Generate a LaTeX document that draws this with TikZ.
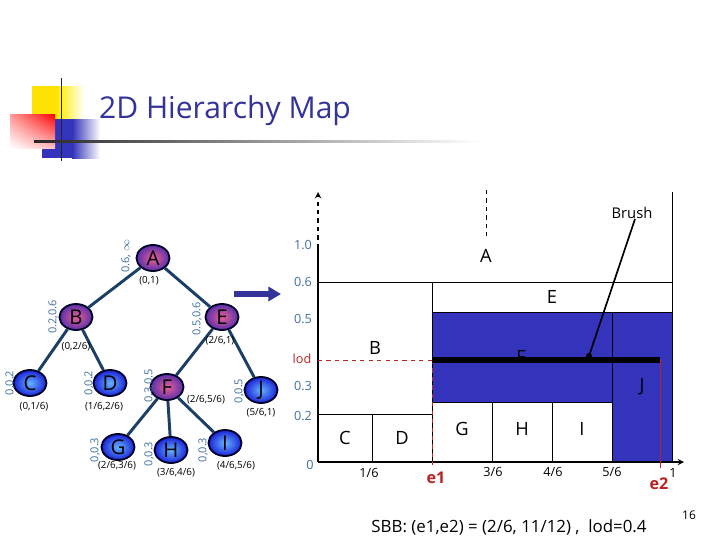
\documentclass[tikz,border=0pt]{standalone}
\usepackage{fontspec}
\setmainfont{Open Sans}
\usetikzlibrary{shapes.geometric,shadings,arrows.meta}
\definecolor{navy}{HTML}{333399}
\definecolor{edgeblue}{HTML}{1C3F66}
\definecolor{ticktext}{HTML}{3F6F9F}
\definecolor{fillblue}{HTML}{3333BB}
\definecolor{redlabel}{HTML}{BB2222}
\definecolor{pinkmid}{HTML}{E8609A}
\definecolor{purpleout}{HTML}{5A2FA8}
\definecolor{bluemid}{HTML}{66B4FF}
\definecolor{blueout}{HTML}{1A22D8}
\tikzset{
  treenode/.style={shape=ellipse,draw=black!85!blue,line width=1.3pt,minimum width=23.5pt,minimum height=18.5pt,inner sep=0pt,font=\fontsize{14.5}{15}\selectfont},
  innernode/.style={treenode,inner color=pinkmid,outer color=purpleout},
  leafnode/.style={treenode,inner color=bluemid,outer color=blueout},
  lodrange/.style={font=\fontsize{7.8}{8}\selectfont,text=ticktext,rotate=90,inner sep=0pt},
  xspan/.style={font=\fontsize{7}{8}\selectfont,inner sep=0pt},
  ticklabel/.style={font=\fontsize{9}{9}\selectfont,inner sep=0pt},
  regionlabel/.style={font=\fontsize{13}{13}\selectfont,inner sep=0pt},
  treeedge/.style={draw=edgeblue,line width=2.1pt},
  cellline/.style={draw=black,line width=0.5pt},
}
\begin{document}
\begin{tikzpicture}[>=stealth,x=0.025cm,y=-0.025cm]
\useasboundingbox (0,0) rectangle (720,540);
% logo
\shade [left color=yellow!85!orange,right color=white] (58,86) rectangle (84,120);
\fill [yellow!85!orange] (32,86) rectangle (58,120);
\shade [left color=fillblue,right color=white] (72,119) rectangle (100,158);
\fill [fillblue] (42,119) rectangle (72,158);
\shade [upper right=red,lower left=white,upper left=red!40,lower right=red!25] (10,114) rectangle (55,148);
\draw [black!85,line width=1.2pt] (61.5,78) -- (61.5,161);
\shade [left color=black!85,right color=white] (34,140) rectangle (480,142);
\node (title) at (225,111) [text=navy,font=\fontsize{21.4}{22}\selectfont] {2D Hierarchy Map};
% tree
\node [innernode] (A) at (153,258) {A};
\node [innernode] (B) at (76,317) {B};
\node [innernode] (E) at (222,317) {E};
\node [leafnode]  (C) at (30,383) {C};
\node [leafnode]  (D) at (110,383) {D};
\node [innernode] (F) at (167,387) {F};
\node [leafnode]  (J) at (261,390) {J};
\node [leafnode]  (G) at (118,447) {G};
\node [leafnode]  (H) at (171,450) {H};
\node [leafnode]  (I) at (225,443) {I};
\draw [treeedge] (A) -- (B);
\draw [treeedge] (A) -- (E);
\draw [treeedge] (B) -- (C);
\draw [treeedge] (B) -- (D);
\draw [treeedge] (E) -- (F);
\draw [treeedge] (E) -- (J);
\draw [treeedge] (F) -- (G);
\draw [treeedge] (F) -- (H);
\draw [treeedge] (F) -- (I);
\node [lodrange] (rA) at (126,256) {0.6, $\infty$};
\node [lodrange] (rB) at (53,317) {0.2,0.6};
\node [lodrange] (rE) at (197,319) {0.5,0.6};
\node [lodrange] (rC) at (10,383) {0,0.2};
\node [lodrange] (rD) at (89,383) {0,0.2};
\node [lodrange] (rF) at (149,386) {0.3,0.5};
\node [lodrange] (rJ) at (239,391) {0,0.5};
\node [lodrange] (rG) at (95,450) {0,0.3};
\node [lodrange] (rH) at (149,454) {0,0.3};
\node [lodrange] (rI) at (203,450) {0,0.3};
\node [xspan] (sA) at (149,281) {(0,1)};
\node [xspan] (sB) at (76,347) {(0,2/6)};
\node [xspan] (sE) at (220,341) {(2/6,1)};
\node [xspan] (sC) at (34,407) {(0,1/6)};
\node [xspan] (sD) at (104,407) {(1/6,2/6)};
\node [xspan] (sF) at (206,400) {(2/6,5/6)};
\node [xspan] (sJ) at (261,413) {(5/6,1)};
\node [xspan] (sG) at (117,466) {(2/6,3/6)};
\node [xspan] (sH) at (176,473) {(3/6,4/6)};
\node [xspan] (sI) at (236,466) {(4/6,5/6)};
\coordinate (arrowtail) at (234,294);
\coordinate (arrowhead) at (281,294);
\draw [->,navy,line width=3.6pt,>={Stealth[length=9pt,width=10pt,inset=0pt]}] (arrowtail) -- (arrowhead);
% map
\fill [fillblue] (432,312) rectangle (672,402);
\fill [fillblue] (612,402) rectangle (672,462);
\draw [cellline] (318,282) -- (672,282);
\draw [cellline] (432,282) -- (432,462);
\draw [cellline] (432,312) -- (672,312);
\draw [cellline] (432,402) -- (612,402);
\draw [cellline] (318,414) -- (432,414);
\draw [cellline] (372,414) -- (372,462);
\draw [cellline] (492,402) -- (492,462);
\draw [cellline] (552,402) -- (552,462);
\draw [cellline] (612,312) -- (612,462);
\draw [cellline] (672,192) -- (672,462);
\coordinate (origin) at (318,462);
\coordinate (xend) at (684,462);
\coordinate (yend) at (318,192);
\coordinate (ymid) at (318,248);
\draw [->,line width=1pt] (origin) -- (xend);
\draw [line width=1pt] (origin) -- (ymid);
\draw [->,dashed,line width=1pt] (ymid) -- (yend);
\coordinate (topa) at (486,190);
\coordinate (topb) at (486,240);
\draw [dashed,line width=0.5pt] (topa) -- (topb);
\node [regionlabel] (lA) at (486,256) {A};
\node [regionlabel] (lB) at (375,348) {B};
\node [regionlabel] (lE) at (552,297) {E};
\node [regionlabel] (lF) at (521,357) {F};
\node [regionlabel] (lJ) at (642,387) {J};
\node [regionlabel] (lC) at (345,438) {C};
\node [regionlabel] (lD) at (402,438) {D};
\node [regionlabel] (lG) at (462,429) {G};
\node [regionlabel] (lH) at (522,429) {H};
\node [regionlabel] (lI) at (582,429) {I};
\coordinate (lodleft) at (318,360);
\coordinate (lodmid) at (432,360);
\coordinate (lodend) at (660,360);
\coordinate (e1low) at (432,468);
\coordinate (e2low) at (660,468);
\draw [dashed,redlabel,line width=0.5pt] (lodleft) -- (lodmid);
\draw [dashed,redlabel,line width=0.5pt] (lodmid) -- (e1low);
\draw [redlabel,line width=0.5pt] (lodend) -- (e2low);
\draw [line width=3.6pt] (lodmid) -- (lodend);
\node [font=\fontsize{10.5}{11}\selectfont,inner sep=0pt] (brush) at (632,213) {Brush};
\coordinate (brushtip) at (589,356);
\draw [line width=1.2pt] (brush.south) ++(3,0) -- (brushtip);
\fill (brushtip) circle (3);
\node [ticklabel,text=ticktext] (y1) at (303,245) {1.0};
\node [ticklabel,text=ticktext] (y6) at (303,282) {0.6};
\node [ticklabel,text=ticktext] (y5) at (303,319) {0.5};
\node [ticklabel,text=redlabel] (ylod) at (302,359) {lod};
\node [ticklabel,text=ticktext] (y3) at (303,386) {0.3};
\node [ticklabel,text=ticktext] (y2) at (303,416) {0.2};
\node [ticklabel,text=ticktext] (y0) at (310,465) {0};
\node [ticklabel] (x1) at (369,473) {1/6};
\node [ticklabel] (x3) at (493,472) {3/6};
\node [ticklabel] (x4) at (553,472) {4/6};
\node [ticklabel] (x5) at (612,472) {5/6};
\node [ticklabel] (x6) at (673,473) {1};
\node [text=redlabel,font=\fontsize{11.5}{12}\bfseries\selectfont,inner sep=0pt] (e1) at (436,478) {e1};
\node [text=redlabel,font=\fontsize{11.5}{12}\bfseries\selectfont,inner sep=0pt] (e2) at (659,484) {e2};
\node [font=\fontsize{12}{12}\selectfont,inner sep=0pt] (sbb) at (509,527) {SBB: (e1,e2) = (2/6, 11/12) ,\ \ lod=0.4};
\node [font=\fontsize{8.5}{9}\selectfont,inner sep=0pt] (page) at (689,515) {16};
\end{tikzpicture}
\end{document}
